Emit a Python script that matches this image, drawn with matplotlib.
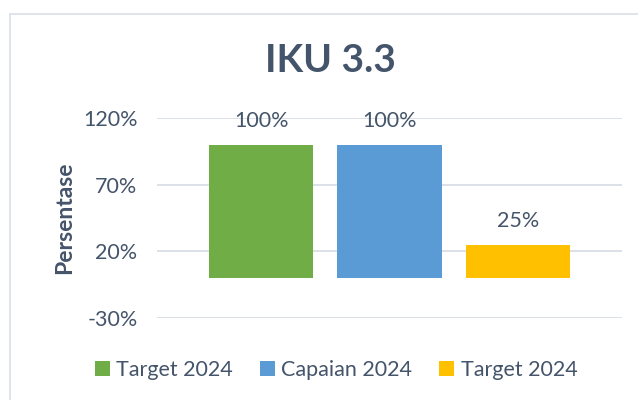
import matplotlib
matplotlib.use("Agg")
import matplotlib.pyplot as plt
from matplotlib.patches import Rectangle
from matplotlib.ticker import FuncFormatter

categories = ["Target 2024", "Capaian 2024", "Target 2024"]
values = [100, 100, 25]
colors = ["#70AD47", "#5B9BD5", "#FFC000"]
yticks = [-30, 20, 70, 120]

txt = "#44546A"
plt.rcParams['font.family'] = ['Lato', 'DejaVu Sans']

fig = plt.figure(figsize=(6.38, 4.0), dpi=100)
W, H = 638, 400
# chart border
fig.patches.append(Rectangle((10 / W, -0.1), 1.2, 1.1 - 14 / H, transform=fig.transFigure,
                             fill=False, edgecolor="#D9DEE6", linewidth=1.2))

ax = fig.add_axes([157 / W, 1 - 318 / H, (622 - 157) / W, (318 - 118) / H])
bars = []
for i, (v, c, lab) in enumerate(zip(values, colors, categories)):
    b = ax.bar(i, v, width=0.81, color=c, label=lab, zorder=3)
    bars.append(b)
    ax.text(i, v + 10, f"{v}%", ha="center", va="bottom", fontsize=15.5, color=txt)

ax.set_ylim(-30, 120)
ax.set_xlim(-0.81, 2.81)
ax.set_yticks(yticks)
ax.yaxis.set_major_formatter(FuncFormatter(lambda v, p: f"{int(v)}%"))
ax.tick_params(axis="y", length=0, labelsize=15.5, labelcolor=txt, pad=14)
ax.set_xticks([])
ax.grid(axis="y", color="#D9DEE6", linewidth=1.3, zorder=0)
for s in ax.spines.values():
    s.set_visible(False)
ax.set_ylabel("Persentase", fontsize=16.5, fontweight="bold", color=txt, labelpad=6)

fig.text(330 / W, 1 - 60 / H, "IKU 3.3", ha="center", va="center", fontsize=28,
         fontweight="bold", color=txt)

fig.legend(handles=[b for b in bars], labels=categories, loc="center",
           bbox_to_anchor=(336 / W, 1 - 370 / H), ncol=3, frameon=False,
           fontsize=15.5, labelcolor=txt, handlelength=0.7, handleheight=0.7,
           handletextpad=0.3, columnspacing=1.25)

fig.savefig("out.png", dpi=100)
